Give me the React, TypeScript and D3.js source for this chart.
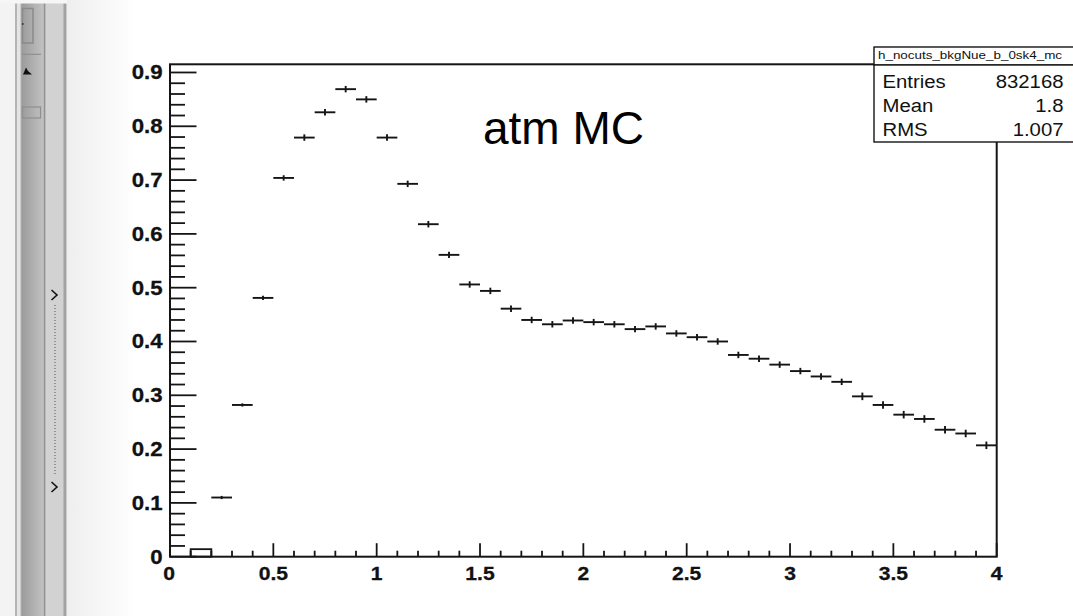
import React from "react";
import * as d3 from "d3";

const binWidth = 0.1;
const xDomain = [0, 4];
const yDomain = [0, 0.9152];
// bin contents for bins [0,0.1), [0.1,0.2), ... [3.9,4.0)
const binValues = [
  0, 0.014, 0.11, 0.282, 0.481, 0.704, 0.779, 0.826, 0.869, 0.85,
  0.779, 0.693, 0.618, 0.561, 0.506, 0.494, 0.461, 0.44, 0.432, 0.439,
  0.436, 0.432, 0.423, 0.428, 0.415, 0.408, 0.4, 0.375, 0.368, 0.357,
  0.345, 0.335, 0.325, 0.298, 0.282, 0.264, 0.256, 0.236, 0.229, 0.207,
];
const binErrors = [
  0, 0.014, 0.003, 0.003, 0.004, 0.005, 0.006, 0.006, 0.006, 0.006,
  0.006, 0.006, 0.006, 0.006, 0.006, 0.006, 0.006, 0.006, 0.006, 0.006,
  0.006, 0.006, 0.006, 0.006, 0.006, 0.006, 0.006, 0.006, 0.006, 0.006,
  0.006, 0.006, 0.006, 0.007, 0.007, 0.007, 0.007, 0.007, 0.007, 0.007,
];
const xTickValues = [0, 0.5, 1, 1.5, 2, 2.5, 3, 3.5, 4];
const xTickLabels = ["0", "0.5", "1", "1.5", "2", "2.5", "3", "3.5", "4"];
const yTickValues = [0, 0.1, 0.2, 0.3, 0.4, 0.5, 0.6, 0.7, 0.8, 0.9];
const yTickLabels = ["0", "0.1", "0.2", "0.3", "0.4", "0.5", "0.6", "0.7", "0.8", "0.9"];
const statsTitle = "h_nocuts_bkgNue_b_0sk4_mc";
const statsNames = ["Entries", "Mean", "RMS"];
const statsValues = ["832168", "1.8", "1.007"];
const annotation = "atm MC";

const FONT = "'Liberation Sans', Arial, Helvetica, sans-serif";

export default function App() {
  const W = 1073, H = 616;
  const left = 170, right = 996.7, top = 64.3, bottom = 556.7;
  const x = d3.scaleLinear().domain(xDomain).range([left, right]);
  const y = d3.scaleLinear().domain(yDomain).range([bottom, top]);

  const xMinor = d3.range(0, 40 + 1).map((i) => i * 0.1).filter((v) => Math.abs(v * 2 - Math.round(v * 2)) > 1e-6);
  const yMinor = d3.range(0, 46).map((i) => i * 0.02).filter((v) => v <= yDomain[1] && Math.abs(v * 10 - Math.round(v * 10)) > 1e-6);

  const stretch = 1.11;
  const ink = "#151515";

  return (
    <svg width={W} height={H} style={{ position: "absolute", left: 0, top: 0, display: "block" }} xmlns="http://www.w3.org/2000/svg">
      <defs>
        <linearGradient id="bgfade" x1="0" x2="1" y1="0" y2="0">
          <stop offset="0" stopColor="#eeeeee" />
          <stop offset="1" stopColor="#ffffff" />
        </linearGradient>
        <linearGradient id="panel" x1="0" x2="1" y1="0" y2="0">
          <stop offset="0" stopColor="#9c9c9c" />
          <stop offset="1" stopColor="#c2c2c2" />
        </linearGradient>
      </defs>
      <rect x={0} y={0} width={W} height={H} fill="#ffffff" />
      {/* left GUI panel */}
      <rect x={0} y={0} width={15} height={H} fill="#f3f3f3" />
      <rect x={15} y={0} width={2} height={H} fill="#b4b4b4" />
      <rect x={17} y={0} width={3.5} height={H} fill="#e4e4e4" />
      <rect x={20.5} y={0} width={1.5} height={H} fill="#a6a6a6" />
      <rect x={22} y={0} width={21.5} height={H} fill="url(#panel)" />
      <rect x={43.5} y={0} width={2.2} height={H} fill="#929292" />
      <rect x={45.7} y={0} width={17.6} height={H} fill="#d2d2d2" />
      <rect x={63.3} y={0} width={3.4} height={H} fill="#a2a2a2" />
      <rect x={66.7} y={0} width={70} height={H} fill="url(#bgfade)" />
      <rect x={0} y={0} width={67} height={3.5} fill="#f6f6f6" />
      <rect x={22.5} y={8.5} width={10.5} height={34.5} fill="none" stroke="#8a8a8a" strokeWidth={1.5} />
      <circle cx={22.8} cy={24} r={0.9} fill="#333" />
      <line x1={22} x2={41} y1={54.3} y2={54.3} stroke="#8f8f8f" strokeWidth={1.2} />
      <path d="M23,74.5 L26,67.5 L28,71 L32,74.5 Z" fill="#111" />
      <rect x={22.5} y={107} width={18} height={11} fill="none" stroke="#8f8f8f" strokeWidth={1.2} />
      <path d="M51.5,290 L57,295 L51.5,300" fill="none" stroke="#111" strokeWidth={1.6} />
      <path d="M51.5,482 L57,487 L51.5,492" fill="none" stroke="#111" strokeWidth={1.6} />
      <line x1={55} x2={55} y1={305} y2={476} stroke="#555" strokeWidth={1} strokeDasharray="1 2" />

      {/* frame */}
      <rect x={left} y={top} width={right - left} height={bottom - top} fill="#ffffff" stroke={ink} strokeWidth={2} />

      {/* x ticks */}
      {xTickValues.map((v) => (
        <line key={"xM" + v} x1={x(v)} x2={x(v)} y1={bottom} y2={bottom - 13.5} stroke={ink} strokeWidth={1.8} />
      ))}
      {xMinor.map((v) => (
        <line key={"xm" + v} x1={x(v)} x2={x(v)} y1={bottom} y2={bottom - 6} stroke={ink} strokeWidth={1.8} />
      ))}
      {/* y ticks */}
      {yTickValues.map((v) => (
        <line key={"yM" + v} x1={left} x2={left + 26.5} y1={y(v)} y2={y(v)} stroke={ink} strokeWidth={1.8} />
      ))}
      {yMinor.map((v) => (
        <line key={"ym" + v} x1={left} x2={left + 15} y1={y(v)} y2={y(v)} stroke={ink} strokeWidth={1.8} />
      ))}

      {/* x labels */}
      {xTickValues.map((v, i) => (
        <text key={"xl" + v} transform={`translate(${x(v) - (i === 0 ? 1 : 0)},580) scale(${stretch},1)`}
          textAnchor="middle" fontFamily={FONT} fontWeight="bold" fontSize={19} fill="#111" stroke="#111" strokeWidth={0.3}>{xTickLabels[i]}</text>
      ))}
      {/* y labels */}
      {yTickValues.map((v, i) => (
        <text key={"yl" + v} transform={`translate(162.5,${y(v) + 7}) scale(${stretch},1)`}
          textAnchor="end" fontFamily={FONT} fontWeight="bold" fontSize={20} fill="#111" stroke="#111" strokeWidth={0.3}>{yTickLabels[i]}</text>
      ))}

      {/* histogram points */}
      {binValues.map((val, i) => {
        if (val <= 0) return null;
        const x0 = x(i * binWidth), x1 = x((i + 1) * binWidth), xc = x((i + 0.5) * binWidth);
        if (val < 0.02) {
          return <rect key={"b" + i} x={x0} y={y(val)} width={x1 - x0} height={bottom - y(val)} fill="none" stroke={ink} strokeWidth={1.8} />;
        }
        const e = binErrors[i];
        return (
          <g key={"b" + i} stroke={ink} strokeWidth={1.9}>
            <line x1={x0} x2={x1} y1={y(val)} y2={y(val)} />
            <line x1={xc} x2={xc} y1={y(val - e)} y2={y(val + e)} />
          </g>
        );
      })}

      {/* annotation */}
      <text x={483} y={144} fontFamily={FONT} fontSize={46} fill="#000">{annotation}</text>

      {/* stats box */}
      <rect x={874} y={47} width={210} height={18} fill="#ffffff" stroke={ink} strokeWidth={1.4} />
      <text x={878} y={58.5} fontFamily={FONT} fontSize={11} fill="#111" textLength={184} lengthAdjust="spacingAndGlyphs">{statsTitle}</text>
      <rect x={874} y={65} width={210} height={77} fill="#ffffff" stroke={ink} strokeWidth={1.4} />
      {statsNames.map((n, i) => (
        <g key={n}>
          <text transform={`translate(882.5,${88.3 + i * 24}) scale(1.13,1)`} fontFamily={FONT} fontSize={18} fill="#111">{n}</text>
          <text transform={`translate(1063.5,${88.3 + i * 24}) scale(1.13,1)`} textAnchor="end" fontFamily={FONT} fontSize={18} fill="#111">{statsValues[i]}</text>
        </g>
      ))}
    </svg>
  );
}
